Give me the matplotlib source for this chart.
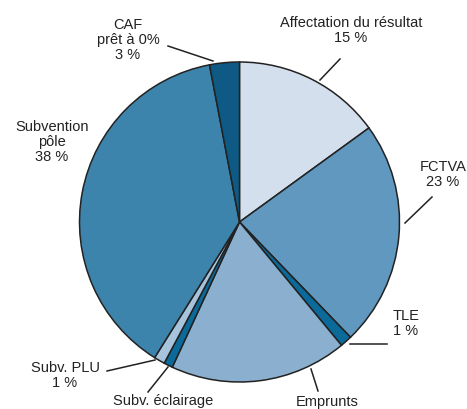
import matplotlib.pyplot as plt
from matplotlib import font_manager

# Données (parts en %)
labels = ['Affectation du résultat\n15 %', 'FCTVA\n23 %', 'TLE\n1 %', 'Emprunts',
          'Subv. éclairage', 'Subv. PLU\n1 %', 'Subvention\npôle\n38 %', 'CAF\nprêt à 0%\n3 %']
values = [15.0, 22.8, 1.2, 17.9, 0.9, 1.1, 38.1, 3.0]
colors = ['#d3dfec', '#6098bf', '#0b6a99', '#8bb0cf', '#0b6a99', '#a8c4dc', '#3d84ad', '#0e5a85']

# positions des étiquettes (pixels, haut du texte) et traits de rappel
label_pos = [(351, 16), (443, 160), (406, 309), (327, 395), (163, 394), (65, 361), (52, 120), (128, 18)]
leaders = [((340, 60), (320, 81)), ((432, 198), (405, 224)), ((387, 345), (350, 345)),
           ((318, 392), (311, 370)), ((148, 393), (168, 368)), ((107, 372), (155, 361)),
           None, ((168, 47), (213, 62))]

names = {f.name for f in font_manager.fontManager.ttflist}
font = 'Liberation Sans Narrow' if 'Liberation Sans Narrow' in names else 'Liberation Sans'
plt.rcParams['font.family'] = [font, 'DejaVu Sans']

W, H = 467, 410
fig = plt.figure(figsize=(W / 100, H / 100), dpi=100)
ax = fig.add_axes([0, 0, 1, 1])
ax.set_xlim(0, W)
ax.set_ylim(0, H)
ax.set_aspect('equal')
ax.axis('off')

ax.pie(values, colors=colors, startangle=90, counterclock=False,
       center=(239.5, H - 223), radius=160,
       wedgeprops=dict(edgecolor='#222222', linewidth=1.1))

for lab, (x, y) in zip(labels, label_pos):
    ax.text(x, H - y, lab, ha='center', va='top', fontsize=10.5,
            color='#222222', linespacing=1.1)

for seg in leaders:
    if seg is None:
        continue
    (x1, y1), (x2, y2) = seg
    ax.plot([x1, x2], [H - y1, H - y2], color='#222222', lw=1.1)

ax.set_xlim(0, W)
ax.set_ylim(0, H)
fig.savefig('out.png', dpi=100)
